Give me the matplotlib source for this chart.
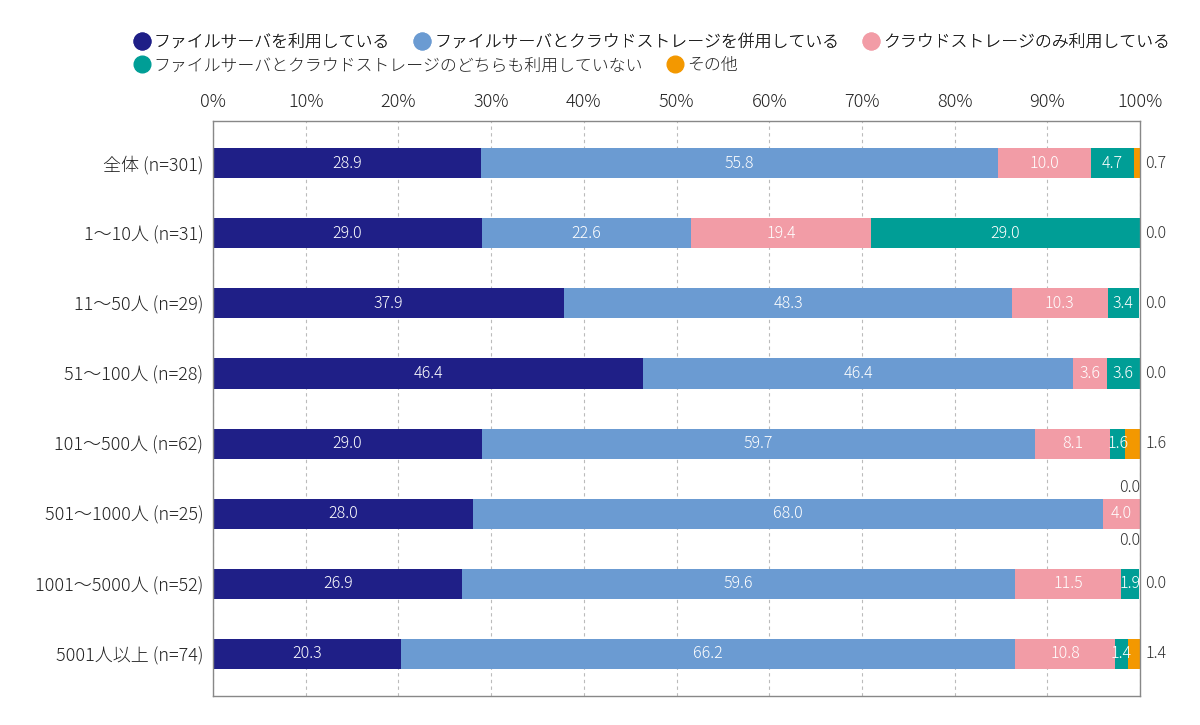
import matplotlib
matplotlib.use("Agg")
import matplotlib.pyplot as plt
from matplotlib.lines import Line2D
import numpy as np

plt.rcParams['font.family'] = ['Noto Sans CJK JP', 'DejaVu Sans']
plt.rcParams['font.weight'] = 'light'

# data
groups = ["全体 (n=301)", "1〜10人 (n=31)", "11〜50人 (n=29)", "51〜100人 (n=28)",
          "101〜500人 (n=62)", "501〜1000人 (n=25)", "1001〜5000人 (n=52)", "5001人以上 (n=74)"]
series = ["ファイルサーバを利用している", "ファイルサーバとクラウドストレージを併用している",
          "クラウドストレージのみ利用している", "ファイルサーバとクラウドストレージのどちらも利用していない",
          "その他"]
file_only = [28.9, 29.0, 37.9, 46.4, 29.0, 28.0, 26.9, 20.3]
both      = [55.8, 22.6, 48.3, 46.4, 59.7, 68.0, 59.6, 66.2]
cloud     = [10.0, 19.4, 10.3, 3.6, 8.1, 4.0, 11.5, 10.8]
neither   = [4.7, 29.0, 3.4, 3.6, 1.6, 0.0, 1.9, 1.4]
other     = [0.7, 0.0, 0.0, 0.0, 1.6, 0.0, 0.0, 1.4]
colors = ["#1f1f87", "#6b9bd2", "#f29ca6", "#009e96", "#f39800"]

values = [file_only, both, cloud, neither, other]

fig = plt.figure(figsize=(12, 7.25), dpi=100)
ax = fig.add_axes([0.1775, 0.04, 0.7725, 0.793])

y = np.arange(len(groups))
left = np.zeros(len(groups))
for k, (vals, c) in enumerate(zip(values, colors)):
    vals = np.array(vals)
    ax.barh(y, vals, left=left, height=0.43, color=c, label=series[k])
    for i, v in enumerate(vals):
        if k < 4 and v > 0:
            ax.text(left[i] + v / 2, y[i], f"{v:.1f}", ha="center", va="center",
                    color="white", fontsize=11.5)
    left += vals

# labels outside the bar for the last segments
for i in range(len(groups)):
    if neither[i] == 0:
        ax.text(100, y[i] - 0.38, f"{neither[i]:.1f}", ha="right", va="center",
                color="#333333", fontsize=11.5)
        ax.text(100, y[i] + 0.38, f"{other[i]:.1f}", ha="right", va="center",
                color="#333333", fontsize=11.5)
    else:
        ax.text(100.6, y[i], f"{other[i]:.1f}", ha="left", va="center",
                color="#333333", fontsize=11.5)

ax.set_xlim(0, 100)
ax.set_ylim(len(groups) - 0.4, -0.6)
ax.set_xticks(np.arange(0, 101, 10))
ax.set_xticklabels([f"{t}%" for t in range(0, 101, 10)], fontsize=13, color="#222222")
ax.xaxis.tick_top()
ax.tick_params(axis="x", length=0, pad=7)
ax.set_yticks(y)
ax.set_yticklabels(groups, fontsize=13, color="#222222")
ax.tick_params(axis="y", length=0, pad=7)
ax.xaxis.grid(True, linestyle=(0, (3, 3)), color="#bbbbbb", linewidth=0.8)
ax.set_axisbelow(True)
for s in ax.spines.values():
    s.set_color("#888888")
    s.set_linewidth(1)

# legend in two rows
handles = [Line2D([], [], marker="o", linestyle="", markersize=12, color=c) for c in colors]
leg_kw = dict(loc="upper left", frameon=False, fontsize=12.2, handletextpad=0.1,
              columnspacing=1.3, handlelength=1.2, labelcolor="#222222")
leg1 = fig.legend(handles[:3], series[:3], bbox_to_anchor=(0.097, 0.974), ncol=3, **leg_kw)
fig.add_artist(leg1)
fig.legend(handles[3:], series[3:], bbox_to_anchor=(0.097, 0.942), ncol=2, **leg_kw)

fig.savefig("out.png", dpi=100)
